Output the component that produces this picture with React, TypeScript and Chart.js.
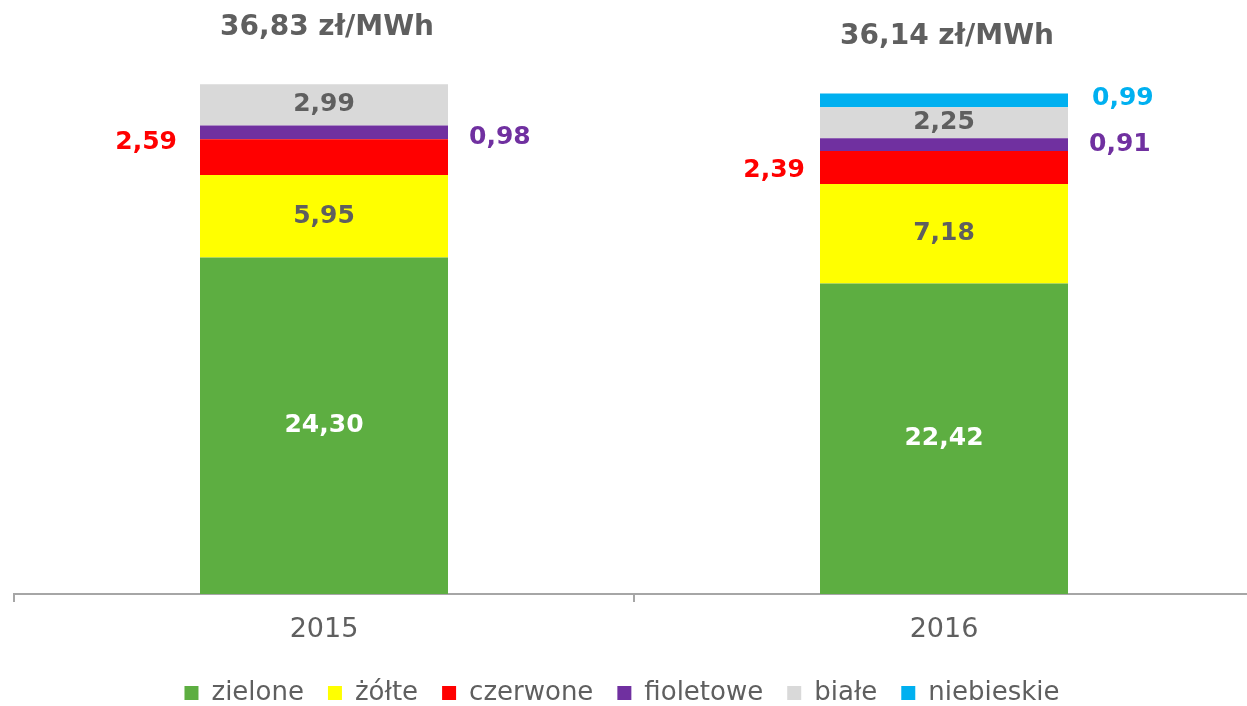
import React, { useEffect, useRef } from "react";
import { Chart, registerables } from "chart.js";

Chart.register(...registerables);

// ---- data ----
const categories = ["2015", "2016"];
const seriesNames = ["zielone", "żółte", "czerwone", "fioletowe", "białe", "niebieskie"];
const zielone = [24.3, 22.42];
const zolte = [5.95, 7.18];
const czerwone = [2.59, 2.39];
const fioletowe = [0.98, 0.91];
const biale = [2.99, 2.25];
const niebieskie = [null, 0.99];
const totals = [36.83, 36.14];
const totalUnit = " zł/MWh";

// ---- style ----
const FONT = '"DejaVu Sans", Verdana, sans-serif';
const GRAY = "#5f5f5f";
const AXIS = "#A6A6A6";
const colors = ["#5DAE41", "#FFFF00", "#FF0000", "#7030A0", "#D9D9D9", "#00B0F0"];

const labelStyles: any[] = [
  { place: "center", color: "#FFFFFF" },
  { place: "center", color: GRAY },
  { place: "left", color: "#FF0000", offsets: [{ dx: -4, dy: -15 }, { dx: 4, dy: 3 }] },
  { place: "right", color: "#7030A0", offsets: [{ dx: 2, dy: 5 }, { dx: 2, dy: 0 }] },
  { place: "center", color: GRAY },
  { place: "right", color: "#00B0F0", offsets: [{ dx: 0, dy: 0 }, { dx: 5, dy: -2 }] },
];

const fmt = (v: number) => v.toFixed(2).replace(".", ",");

const stackLabels = {
  id: "stackLabels",
  afterDatasetsDraw(chart: any) {
    const ctx = chart.ctx;
    const opts = chart.options.plugins.stackLabels;
    ctx.save();
    ctx.textBaseline = "middle";
    ctx.font = `bold ${opts.size}px ${FONT}`;
    chart.data.datasets.forEach((ds: any, di: number) => {
      const meta = chart.getDatasetMeta(di);
      const cfg = opts.series[di];
      meta.data.forEach((el: any, i: number) => {
        const v = ds.data[i];
        if (v == null || v === 0) return;
        const { x, y, base, width } = el.getProps(["x", "y", "base", "width"], true);
        const off = (cfg.offsets && cfg.offsets[i]) || { dx: 0, dy: 0 };
        let tx = x;
        let align = "center";
        if (cfg.place === "left") {
          tx = x - width / 2 - opts.gap;
          align = "right";
        } else if (cfg.place === "right") {
          tx = x + width / 2 + opts.gap;
          align = "left";
        }
        ctx.textAlign = align;
        ctx.fillStyle = cfg.color;
        ctx.fillText(fmt(v), tx + (off.dx || 0), (y + base) / 2 + (off.dy || 0));
      });
    });
    const yScale = chart.scales.y;
    const meta0 = chart.getDatasetMeta(0);
    ctx.font = `bold ${opts.totalSize}px ${FONT}`;
    ctx.fillStyle = GRAY;
    ctx.textAlign = "center";
    totals.forEach((t, i) => {
      const el = meta0.data[i];
      if (!el) return;
      ctx.fillText(fmt(t) + totalUnit, el.x + opts.totalDx, yScale.getPixelForValue(t) - opts.totalGap);
    });
    ctx.restore();
  },
};

export default function App() {
  const ref = useRef<HTMLCanvasElement | null>(null);

  useEffect(() => {
    if (!ref.current) return;
    const seriesValues = [zielone, zolte, czerwone, fioletowe, biale, niebieskie];
    const chart = new Chart(ref.current, {
      type: "bar",
      data: {
        labels: categories,
        datasets: seriesNames.map((name, i) => ({
          label: name,
          data: seriesValues[i],
          backgroundColor: colors[i],
          borderWidth: 0,
          categoryPercentage: 1,
          barPercentage: 0.4,
        })),
      },
      options: {
        animation: false,
        responsive: false,
        layout: { padding: { top: 40, left: 0, right: 0, bottom: 0 } },
        plugins: {
          legend: {
            position: "bottom",
            labels: {
              font: { family: FONT, size: 26 },
              color: GRAY,
              boxWidth: 14,
              boxHeight: 14,
              padding: 24,
            },
          },
          tooltip: { enabled: false },
          stackLabels: {
            size: 25,
            gap: 19,
            totalSize: 28,
            totalGap: 56.5,
            totalDx: 3,
            series: labelStyles,
          },
        } as any,
        scales: {
          x: {
            stacked: true,
            afterFit: (s: any) => {
              s.height = 62;
            },
            grid: {
              offset: true,
              drawOnChartArea: false,
              drawTicks: true,
              tickLength: 8,
              color: AXIS,
              lineWidth: 2,
            },
            border: { display: true, color: AXIS, width: 2 },
            ticks: { font: { family: FONT, size: 27 }, color: GRAY, padding: 12 },
          },
          y: {
            stacked: true,
            min: 0,
            max: 40,
            afterFit: (s: any) => {
              s.width = 24;
            },
            ticks: { display: false },
            grid: { display: false },
            border: { display: false },
          },
        },
      } as any,
      plugins: [stackLabels],
    });
    return () => chart.destroy();
  }, []);

  return (
    <div
      style={{
        position: "fixed",
        left: 0,
        top: 0,
        width: 1247,
        height: 706,
        overflow: "hidden",
        background: "#ffffff",
      }}
    >
      <canvas
        ref={ref}
        width={1264}
        height={716}
        style={{ position: "absolute", left: -10, top: 0, display: "block" }}
      />
    </div>
  );
}
